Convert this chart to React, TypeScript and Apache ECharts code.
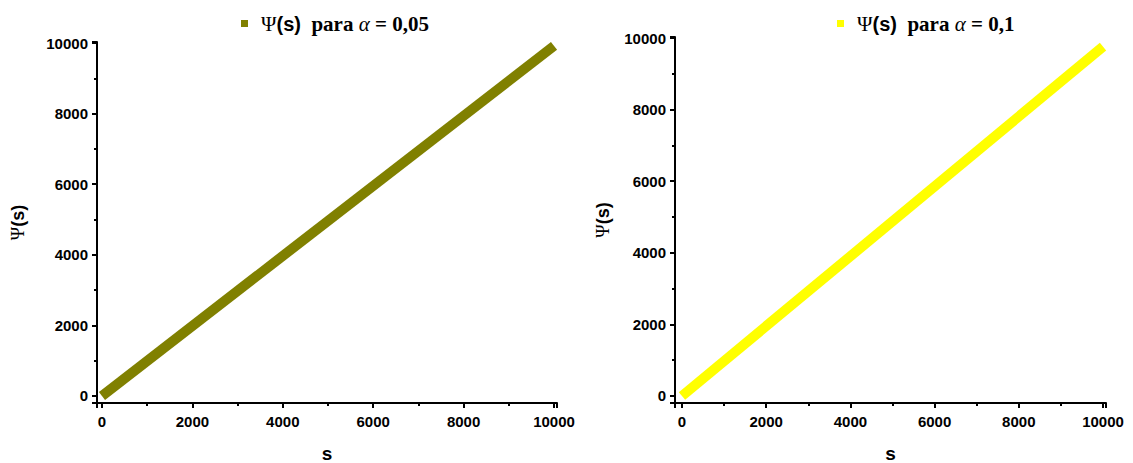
import React, { useEffect, useRef } from "react";
import * as echarts from "echarts";

const sValues = [0, 10000];
const psiAlpha005 = [0, 9920];
const psiAlpha01 = [0, 9760];
const seriesNames = ["Ψ(s) para α = 0,05", "Ψ(s) para α = 0,1"];
const alphaLabels = ["0,05", "0,1"];
const colors = ["#808000", "#ffff00"];

const richLegend = {
  psi: { fontFamily: "Liberation Serif", fontSize: 21, color: "#000", padding: [0, 0, 0, 8] },
  s: { fontFamily: "Liberation Sans", fontWeight: "bold", fontSize: 20, color: "#000" },
  p: { fontFamily: "Liberation Serif", fontWeight: "bold", fontSize: 21, color: "#000" },
  a: { fontFamily: "Liberation Serif", fontStyle: "italic", fontSize: 21, color: "#000" },
};

const richName = {
  psi: { fontFamily: "Liberation Serif", fontSize: 18, color: "#000" },
  s: { fontFamily: "Liberation Sans", fontWeight: "bold", fontSize: 18, color: "#000" },
};

function axisCommon(margin: number) {
  return {
    axisLine: { show: true, onZero: false, lineStyle: { color: "#000", width: 2 } },
    axisTick: { show: true, inside: false, length: 5, lineStyle: { color: "#000", width: 2 } },
    minorTick: { show: true, splitNumber: 2, length: 3, lineStyle: { color: "#000", width: 2 } },
    splitLine: { show: false },
    axisLabel: {
      show: true,
      showMinLabel: false,
      showMaxLabel: false,
      color: "#000",
      fontFamily: "Liberation Sans",
      fontWeight: "bold",
      fontSize: 15,
      margin,
      formatter: (v: number) => (v % 2000 === 0 ? String(v) : ""),
    },
  };
}

export default function App() {
  const ref = useRef<HTMLDivElement>(null);
  useEffect(() => {
    if (!ref.current) return;
    const chart = echarts.init(ref.current, null, { renderer: "svg" });
    const grids = [
      { left: 97, top: 42, width: 460, height: 361, outerBoundsMode: "none", containLabel: false },
      { left: 675, top: 37, width: 431, height: 366, outerBoundsMode: "none", containLabel: false },
    ];
    const xRanges = [
      [-110, 10066],
      [-166, 10071],
    ];
    const yRanges = [
      [-200, 10030],
      [-196, 10030],
    ];
    const legendPos = [
      { left: 236, top: 8 },
      { left: 832, top: 8 },
    ];
    const dataSets = [psiAlpha005, psiAlpha01];
    const option: any = {
      animation: false,
      backgroundColor: "#fff",
      legend: seriesNames.map((n, i) => ({
        data: [{ name: n, icon: "rect" }],
        left: legendPos[i].left,
        top: legendPos[i].top,
        itemWidth: 7,
        itemHeight: 7,
        formatter: () => `{psi|Ψ}{s|(s)}{p|  para }{a|α}{p| = ${alphaLabels[i]}}`,
        textStyle: { rich: richLegend },
      })),
      grid: grids,
      xAxis: grids.map((_, i) => ({
        type: "value",
        gridIndex: i,
        min: xRanges[i][0],
        max: xRanges[i][1],
        splitNumber: 5,
        name: "s",
        nameLocation: "middle",
        nameGap: 42,
        nameTextStyle: {
          fontFamily: "Liberation Sans",
          fontWeight: "bold",
          fontSize: 19,
          lineHeight: 16,
          color: "#000",
        },
        ...axisCommon(11),
      })),
      yAxis: grids.map((_, i) => ({
        type: "value",
        gridIndex: i,
        min: yRanges[i][0],
        max: yRanges[i][1],
        splitNumber: 5,
        name: "{psi|Ψ}{s|(s)}",
        nameLocation: "middle",
        nameRotate: 90,
        nameGap: i === 0 ? 70 : 63,
        nameTextStyle: { rich: richName },
        ...axisCommon(9),
      })),
      series: dataSets.map((d, i) => ({
        name: seriesNames[i],
        type: "line",
        xAxisIndex: i,
        yAxisIndex: i,
        data: sValues.map((s, k) => [s, d[k]]),
        showSymbol: false,
        symbol: "rect",
        color: colors[i],
        lineStyle: { color: colors[i], width: 10, cap: "butt" },
        clip: false,
      })),
    };
    chart.setOption(option);
    return () => chart.dispose();
  }, []);
  return (
    <div
      ref={ref}
      style={{ position: "fixed", left: 0, top: 0, width: 1133, height: 463 }}
    />
  );
}
